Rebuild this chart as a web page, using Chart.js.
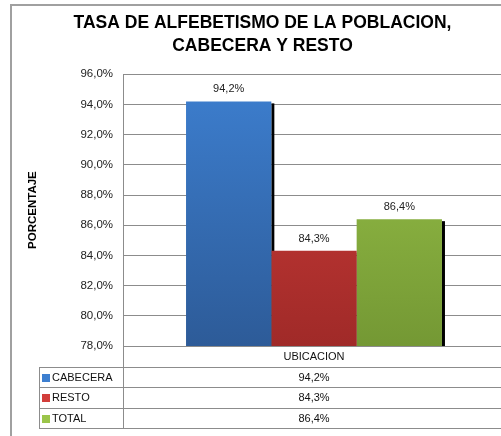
<!DOCTYPE html>
<html>
<head>
<meta charset="utf-8">
<script src="https://cdn.jsdelivr.net/npm/chart.js@4/dist/chart.umd.min.js"></script>
<style>
  html, body { margin: 0; padding: 0; background: #fff; overflow: hidden; }
  #wrap { width: 501px; height: 436px; overflow: hidden; }
</style>
</head>
<body>
<div id="wrap"><canvas id="grafico" width="510" height="436"></canvas></div>
<script>
var categorias = ['UBICACION'];
var series = ['CABECERA', 'RESTO', 'TOTAL'];
var cabecera = [94.2];
var resto = [84.3];
var total = [86.4];
var ejeMin = 78, ejeMax = 96, ejePaso = 2;

var colores = [
  ['#3d7fd0', '#2d5b98'],
  ['#d23e3b', '#a02a28'],
  ['#9bc54a', '#749834']
];

function pct(v) { return v.toFixed(1).replace('.', ',') + '%'; }

function degradado(i) {
  return function(ctx) {
    var chart = ctx.chart, area = chart.chartArea;
    if (!area) return colores[i][0];
    var g = chart.ctx.createLinearGradient(0, area.top, 0, area.bottom);
    g.addColorStop(0, colores[i][0]);
    g.addColorStop(1, colores[i][1]);
    return g;
  };
}

var fuente = '"Liberation Sans", Arial, sans-serif';

// sombra negra a la derecha de cada barra
var sombra = {
  id: 'sombra',
  beforeDatasetsDraw: function(chart) {
    var c = chart.ctx, a = chart.chartArea;
    c.save();
    c.fillStyle = '#000';
    chart.data.datasets.forEach(function(ds, i) {
      chart.getDatasetMeta(i).data.forEach(function(bar) {
        var r = bar.x + bar.width / 2;
        var abajo = Math.min(bar.base, a.bottom);
        c.fillRect(r, bar.y + 2, 3, abajo - bar.y - 2);
      });
    });
    c.restore();
  }
};

// etiquetas sobre las barras
var etiquetas = {
  id: 'etiquetas',
  afterDatasetsDraw: function(chart) {
    var c = chart.ctx;
    c.save();
    c.font = '11px ' + fuente;
    c.fillStyle = '#222';
    c.textAlign = 'center';
    c.textBaseline = 'middle';
    chart.data.datasets.forEach(function(ds, i) {
      chart.getDatasetMeta(i).data.forEach(function(bar, j) {
        c.fillText(pct(ds.data[j]), bar.x, bar.y - 12);
      });
    });
    c.restore();
  }
};

// tabla de datos y marco
var tabla = {
  id: 'tabla',
  afterDraw: function(chart) {
    var c = chart.ctx, a = chart.chartArea;
    var izq = 39, fila = 20.5, centro = (a.left + a.right) / 2;
    var n = chart.data.datasets.length;
    c.save();
    c.strokeStyle = '#8c8c8c';
    c.lineWidth = 1;
    c.beginPath();
    for (var k = 1; k <= n + 1; k++) {
      var y = Math.round(a.bottom + fila * k) + 0.5;
      c.moveTo(izq, y); c.lineTo(chart.width, y);
    }
    c.moveTo(izq + 0.5, Math.round(a.bottom + fila) + 0.5);
    c.lineTo(izq + 0.5, Math.round(a.bottom + fila * (n + 1)) + 0.5);
    c.moveTo(a.left + 0.5, a.top);
    c.lineTo(a.left + 0.5, Math.round(a.bottom + fila * (n + 1)) + 0.5);
    c.stroke();

    c.font = '11px ' + fuente;
    c.fillStyle = '#111';
    c.textBaseline = 'middle';
    c.textAlign = 'center';
    c.fillText(chart.data.labels[0], centro, a.bottom + fila / 2 + 1);
    chart.data.datasets.forEach(function(ds, i) {
      var yc = a.bottom + fila * (i + 1.5) + 1;
      c.textAlign = 'center';
      c.fillStyle = '#111';
      c.fillText(pct(ds.data[0]), centro, yc);
      c.fillStyle = colores[i][0];
      c.fillRect(izq + 3, Math.round(yc - 4), 8, 8);
      c.fillStyle = '#111';
      c.textAlign = 'left';
      c.fillText(ds.label, izq + 13, yc);
    });

    // marco exterior
    c.strokeStyle = '#a0a0a0';
    c.lineWidth = 2;
    c.beginPath();
    c.moveTo(11, chart.height);
    c.lineTo(11, 5);
    c.lineTo(chart.width, 5);
    c.stroke();
    c.restore();
  }
};

new Chart(document.getElementById('grafico'), {
  type: 'bar',
  data: {
    labels: categorias,
    datasets: [
      { label: series[0], data: cabecera, backgroundColor: degradado(0) },
      { label: series[1], data: resto, backgroundColor: degradado(1) },
      { label: series[2], data: total, backgroundColor: degradado(2) }
    ]
  },
  options: {
    responsive: false,
    animation: false,
    layout: { padding: { left: 20, right: 5, top: 0, bottom: 90 } },
    datasets: { bar: { barPercentage: 1, categoryPercentage: 0.67 } },
    plugins: {
      legend: { display: false },
      tooltip: { enabled: false },
      title: {
        display: true,
        text: ['TASA DE ALFEBETISMO DE LA POBLACION,', 'CABECERA Y RESTO'],
        color: '#000',
        font: { family: fuente, size: 17.5, weight: 'bold', lineHeight: 1.32 },
        padding: { top: 12, bottom: 16 }
      }
    },
    scales: {
      x: { display: false },
      y: {
        min: ejeMin,
        max: ejeMax,
        afterFit: function(scale) { scale.width = 103; },
        ticks: {
          stepSize: ejePaso,
          padding: 10,
          color: '#222',
          font: { family: fuente, size: 11.5 },
          callback: function(v) { return pct(v); }
        },
        grid: { color: '#8c8c8c', lineWidth: 1, drawTicks: false },
        border: { display: true, color: '#8c8c8c' },
        title: {
          display: true,
          text: 'PORCENTAJE',
          color: '#000',
          font: { family: fuente, size: 11.5, weight: 'bold' },
          padding: { top: 6, bottom: 0 }
        }
      }
    }
  },
  plugins: [sombra, etiquetas, tabla]
});
</script>
</body>
</html>
